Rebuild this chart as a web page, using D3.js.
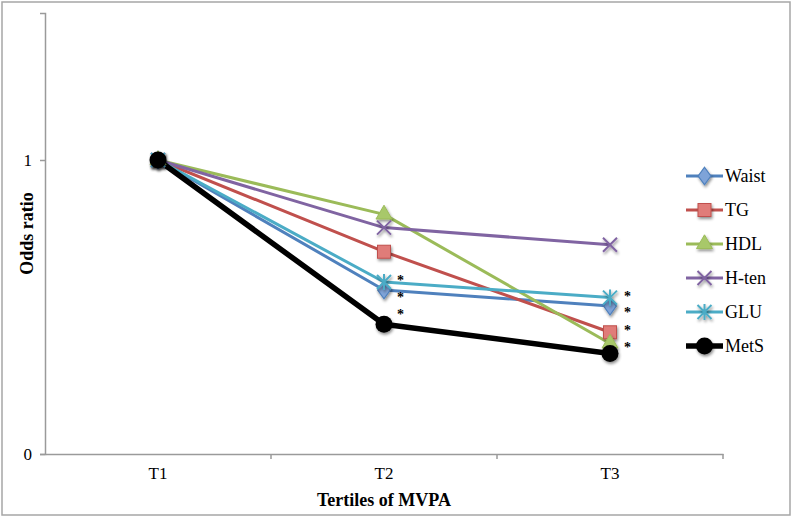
<!DOCTYPE html>
<html><head><meta charset="utf-8">
<script src="https://cdn.jsdelivr.net/npm/d3@7"></script>
<style>body{margin:0;background:#fff}svg{display:block}</style>
</head><body>
<svg id="c" width="794" height="519"></svg>
<script>
const categories = ["T1","T2","T3"];
const seriesNames = ["Waist","TG","HDL","H-ten","GLU","MetS"];
const waist = [1, 0.558, 0.503];
const tg    = [1, 0.688, 0.414];
const hdl   = [1, 0.815, 0.376];
const hten  = [1, 0.770, 0.712];
const glu   = [1, 0.585, 0.532];
const mets  = [1, 0.441, 0.342];
const yTicks = [0, 1];
const starsT2 = ["GLU","Waist","MetS"];
const starsT3 = ["GLU","Waist","TG","HDL"];

const seriesValues = [waist, tg, hdl, hten, glu, mets];
const colors = ["#4F81BD","#C0504D","#9BBB59","#8064A2","#4BACC6","#000000"];
const fills  = ["#7EA3D8","#E07C79","#A8C86A","#8064A2","#4BACC6","#000000"];
const markers = ["diamond","square","triangle","x","star","circle"];

const svg = d3.select("#c");
const font = "'Liberation Serif', serif";
svg.append("rect").attr("x",2).attr("y",2).attr("width",788).attr("height",513)
  .attr("fill","none").attr("stroke","#a6a6a6").attr("stroke-width",1.5);

const defs = svg.append("defs");
const f = defs.append("filter").attr("id","sh").attr("x","-50%").attr("y","-50%").attr("width","200%").attr("height","200%");
f.append("feGaussianBlur").attr("in","SourceAlpha").attr("stdDeviation",1.5);
f.append("feOffset").attr("dx",1).attr("dy",1.5).attr("result","ob");
f.append("feComponentTransfer").append("feFuncA").attr("type","linear").attr("slope",0.45);
const fm = f.append("feMerge"); fm.append("feMergeNode"); fm.append("feMergeNode").attr("in","SourceGraphic");

const x0 = 45, x1 = 723, yTop = 13, yBot = 454;
const x = d3.scaleBand().domain(categories).range([x0, x1]);
const y = d3.scaleLinear().domain([0, 1.5]).range([yBot, yTop]);
const cx = c => x(c) + x.bandwidth()/2;

const yAxis = d3.axisLeft(y).tickValues(yTicks).tickFormat(d3.format("d")).tickSize(5);
const gy = svg.append("g").attr("transform",`translate(${x0},0)`).call(yAxis);
gy.select(".domain").attr("stroke","#9a9a9a").attr("stroke-width",1.5);
gy.selectAll(".tick line").attr("stroke","#9a9a9a").attr("stroke-width",1.5);
gy.selectAll(".tick text").attr("font-family",font).attr("font-size",17).attr("fill","#000").attr("x",-13);

const xAxis = d3.axisBottom(x).tickSize(0);
const gx = svg.append("g").attr("transform",`translate(0,${yBot})`).call(xAxis);
gx.select(".domain").attr("stroke","#9a9a9a").attr("stroke-width",1.5);
gx.selectAll(".tick text").attr("font-family",font).attr("font-size",17).attr("fill","#000").attr("dy","1.3em");
svg.append("g").selectAll("line").data(categories.slice(1)).join("line")
  .attr("x1",d=>x(d)).attr("x2",d=>x(d)).attr("y1",yBot).attr("y2",yBot+5)
  .attr("stroke","#9a9a9a").attr("stroke-width",1.5);
svg.append("line").attr("x1",x1).attr("x2",x1).attr("y1",yBot).attr("y2",yBot+5)
  .attr("stroke","#9a9a9a").attr("stroke-width",1.5);

svg.append("text").attr("transform",`translate(33,${(yTop+yBot)/2}) rotate(-90)`)
  .attr("text-anchor","middle").attr("font-family",font).attr("font-weight","bold")
  .attr("font-size",18).text("Odds ratio");
svg.append("text").attr("x",(x0+x1)/2).attr("y",506).attr("text-anchor","middle")
  .attr("font-family",font).attr("font-weight","bold").attr("font-size",18).text("Tertiles of MVPA");

function drawMarker(g, type, color, fill){
  if(type==="diamond"){
    g.append("path").attr("d",d3.symbol(d3.symbolDiamond, 90)()).attr("transform","scale(1.25,1)")
      .attr("fill",fill).attr("stroke",color).attr("stroke-width",1);
  } else if(type==="square"){
    g.append("rect").attr("x",-6.5).attr("y",-6.5).attr("width",13).attr("height",13)
      .attr("fill",fill).attr("stroke",color).attr("stroke-width",1);
  } else if(type==="triangle"){
    g.append("path").attr("d",d3.symbol(d3.symbolTriangle, 110)()).attr("fill",fill).attr("stroke",color).attr("stroke-width",1);
  } else if(type==="x"){
    g.append("path").attr("d","M-7,-7L7,7M-7,7L7,-7").attr("stroke",color).attr("stroke-width",2).attr("fill","none");
  } else if(type==="star"){
    g.append("path").attr("d","M-7,-7L7,7M-7,7L7,-7M0,-8L0,8").attr("stroke",color).attr("stroke-width",2).attr("fill","none");
  } else if(type==="circle"){
    g.append("circle").attr("r",8.5).attr("fill",fill);
  }
}

const data = seriesNames.map((n,i)=>({name:n, values:seriesValues[i], color:colors[i], fill:fills[i], marker:markers[i]}));
const line = d3.line().x((d,i)=>cx(categories[i])).y(d=>y(d));
data.forEach(s=>{
  svg.append("path").datum(s.values).attr("d",line).attr("fill","none")
    .attr("stroke",s.color).attr("stroke-width", s.name==="MetS"?5.5:3).attr("stroke-linejoin","round");
});
data.forEach(s=>{
  s.values.forEach((v,i)=>{
    const g = svg.append("g").attr("transform",`translate(${cx(categories[i])},${y(v)})`).attr("filter","url(#sh)");
    drawMarker(g, s.marker, s.color, s.fill);
  });
});

const valOf = (name, idx) => seriesValues[seriesNames.indexOf(name)][idx];
const starOff = {"T2":{GLU:-5,Waist:4,MetS:-13},"T3":{GLU:-5,Waist:3,TG:-5,HDL:1}};
starsT2.forEach(n=>{
  svg.append("text").attr("x",cx("T2")+13).attr("y",y(valOf(n,1))+starOff.T2[n]+8)
    .attr("font-family",font).attr("font-size",14).attr("font-weight","bold").attr("fill","#000").text("*");
});
starsT3.forEach(n=>{
  svg.append("text").attr("x",cx("T3")+14).attr("y",y(valOf(n,2))+starOff.T3[n]+8)
    .attr("font-family",font).attr("font-size",14).attr("font-weight","bold").attr("fill","#000").text("*");
});

const legY = [176,210,244,278,312,346];
const lg = svg.append("g");
data.forEach((s,i)=>{
  const g = lg.append("g").attr("transform",`translate(686,${legY[i]})`);
  g.append("line").attr("x1",0).attr("x2",37).attr("stroke",s.color).attr("stroke-width",s.name==="MetS"?5.5:3);
  const m = g.append("g").attr("transform","translate(18.5,0)").attr("filter","url(#sh)");
  drawMarker(m, s.marker, s.color, s.fill);
  g.append("text").attr("x",39).attr("y",6).attr("font-family",font).attr("font-size",18).attr("fill","#000").text(s.name);
});
</script>
</body></html>
